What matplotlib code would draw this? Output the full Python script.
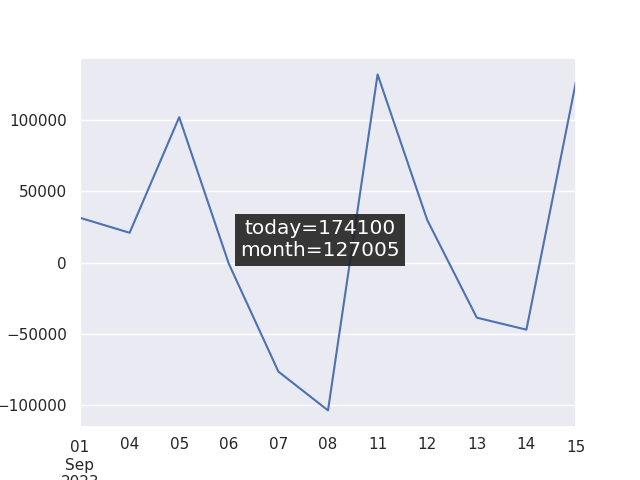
import pandas as pd
import seaborn as sns
import matplotlib.pyplot as plt

sns.set_theme()

dates = pd.bdate_range("2023-09-01", "2023-09-15")
values = [31500, 21000, 102000, -700, -76300, -103500, 132000, 30000, -38500, -46900, 127005]
today = 174100
month = 127005

s = pd.Series(values, index=dates)

fig, ax = plt.subplots(figsize=(6.4, 4.8), dpi=100)
s.plot(ax=ax)

fig.text(0.5, 0.5, f"today={today}\nmonth={month}", ha="center", va="center",
         fontsize=14.5, color="white",
         bbox=dict(facecolor="#222222", alpha=0.9, edgecolor="none", boxstyle="square,pad=0.25"))

plt.savefig("out.png")
